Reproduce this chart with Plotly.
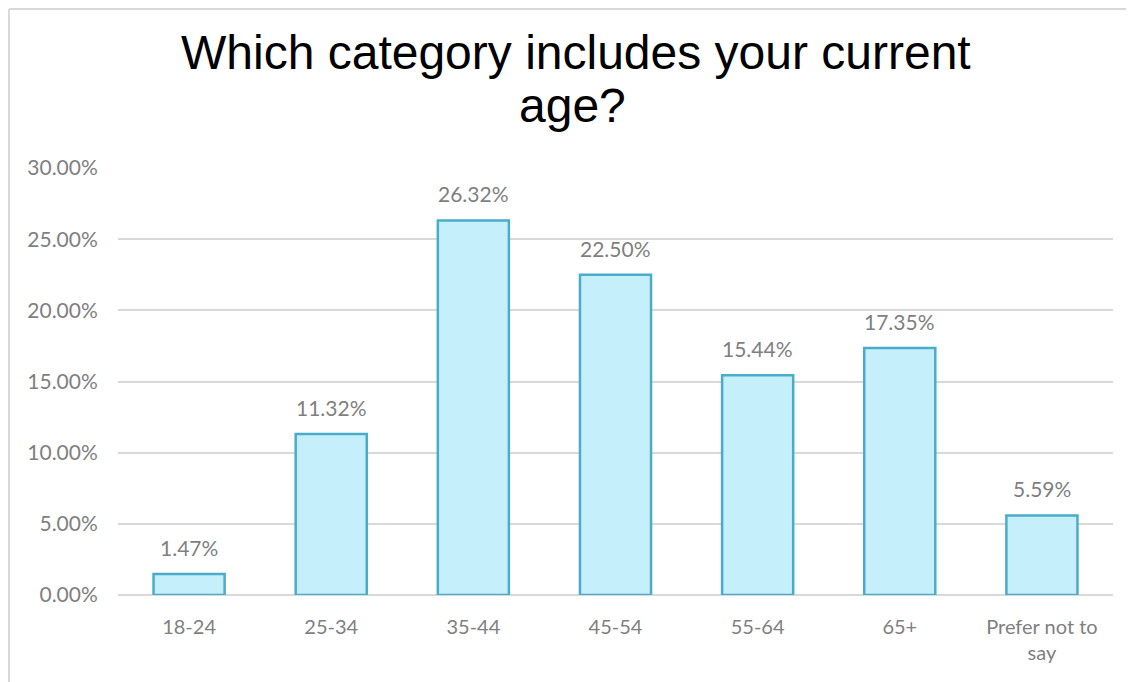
import plotly.graph_objects as go

categories = ["18-24", "25-34", "35-44", "45-54", "55-64", "65+", "Prefer not to<br>say"]
values = [0.0147, 0.1132, 0.2632, 0.2250, 0.1544, 0.1735, 0.0559]
title_lines = ["Which category includes your current", "age?"]

FONT = "Lato, Carlito, sans-serif"
W, H = 1126, 674
L, R, T, B = 110, 21, 160, 87
PW, PH = W - L - R, H - T - B

fig = go.Figure()
fig.add_trace(go.Bar(
    x=categories,
    y=values,
    marker=dict(color="#c6effc", line=dict(color="#4aaccb", width=2.5)),
    hoverinfo="x+y",
))

annotations = [
    dict(x=c, y=v, xref="x", yref="y", text=f"{v:.2%}", showarrow=False,
         yanchor="bottom", yshift=12,
         font=dict(family=FONT, size=21, color="#7f7f7f"))
    for c, v in zip(categories, values)
]
for line, ypix, xpix in zip(title_lines, [45, 97], [575.5, 572]):
    annotations.append(dict(
        x=(xpix - 8 - L) / PW, xref="paper", y=(PH + T - ypix) / PH, yref="paper",
        text=line, showarrow=False, xanchor="center", yanchor="middle",
        font=dict(family="Liberation Sans, Arial, sans-serif", size=48, color="#000000"),
    ))

fig.update_layout(
    width=W, height=H,
    margin=dict(l=L, r=R, t=T, b=B),
    paper_bgcolor="white", plot_bgcolor="white",
    bargap=0.5,
    showlegend=False,
    annotations=annotations,
    xaxis=dict(
        showgrid=False, showline=False, zeroline=False,
        tickfont=dict(family=FONT, size=20, color="#7f7f7f"),
        ticks="outside", ticklen=14, tickcolor="rgba(0,0,0,0)",
    ),
    yaxis=dict(
        range=[0, 0.30],
        dtick=0.05,
        tickformat=".2%",
        showgrid=True, gridcolor="#d9d9d9", gridwidth=2,
        zeroline=True, zerolinecolor="#d9d9d9", zerolinewidth=2,
        showline=False,
        tickfont=dict(family=FONT, size=21, color="#7f7f7f"),
        ticks="outside", ticklen=15, tickcolor="rgba(0,0,0,0)",
    ),
    shapes=[
        dict(type="line", xref="paper", yref="paper",
             x0=(1 - L) / PW, x1=(1 - L) / PW, y0=-B / PH, y1=(PH + T - 1) / PH,
             line=dict(color="#d9d9d9", width=2)),
        dict(type="line", xref="paper", yref="paper",
             x0=(1 - L) / PW, x1=(W - L) / PW, y0=(PH + T - 1) / PH, y1=(PH + T - 1) / PH,
             line=dict(color="#d9d9d9", width=2)),
    ],
)

fig.write_html("out.html")
